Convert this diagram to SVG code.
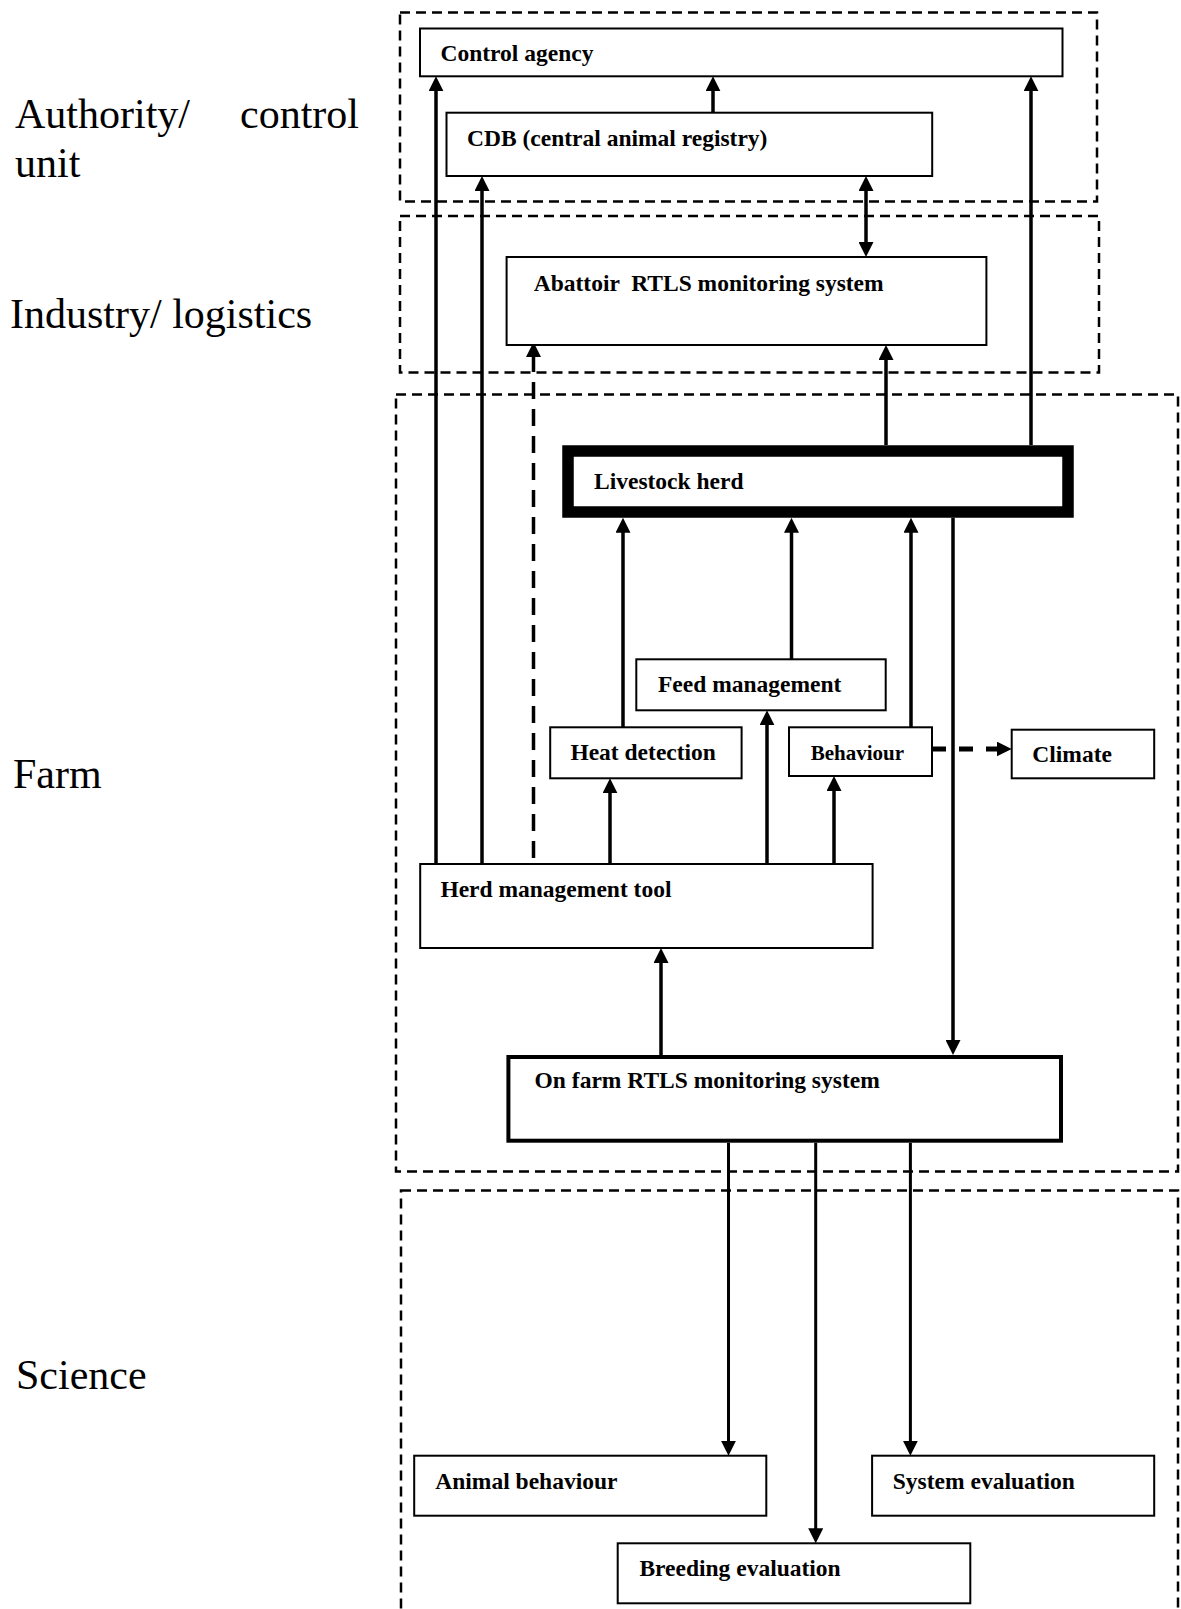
<svg xmlns="http://www.w3.org/2000/svg" width="1181" height="1609" viewBox="0 0 1181 1609">
<style>
.bg{fill:#ffffff}
.zone{fill:none;stroke:#000;stroke-width:2.5;stroke-dasharray:10 6}
.box{fill:#fff;stroke:#000;stroke-width:2}
.lbl{font-family:"Liberation Serif","Times New Roman",serif;font-weight:bold;font-size:23.5px;fill:#000;white-space:pre}
.side{font-family:"Liberation Serif","Times New Roman",serif;font-size:42px;fill:#000}
.arr{fill:none;stroke:#000;stroke-width:3.5;marker-end:url(#ah)}
.dash{stroke-dasharray:17 10}
</style>
<defs>
<marker id="ah" viewBox="0 0 15 15" markerWidth="15" markerHeight="15" refX="11" refY="7.5" orient="auto-start-reverse" markerUnits="userSpaceOnUse">
<path d="M0,0 L15,7.5 L0,15 z" fill="#000"/>
</marker>
</defs>
<rect class="bg" x="0" y="0" width="1181" height="1609"/>

<g id="zones">
<rect class="zone" x="400" y="12.5" width="697" height="189"/>
<rect class="zone" x="400" y="216" width="699" height="156.5"/>
<rect class="zone" x="396" y="394.5" width="782" height="777"/>
<rect class="zone" x="401" y="1190.5" width="777" height="440"/>
</g>

<g id="side-labels">
<text class="side" y="128"><tspan x="15">Authority/</tspan><tspan x="240">control</tspan></text>
<text class="side" x="15" y="177">unit</text>
<text class="side" x="10" y="328">Industry/ logistics</text>
<text class="side" x="13" y="788">Farm</text>
<text class="side" x="16" y="1389">Science</text>
</g>

<g id="connectors">
<path class="arr" d="M436,864 V80.3"/>
<path class="arr" d="M482,864 V180"/>
<path class="arr dash" d="M533.5,858 V346"/>
<path class="arr" d="M610,864 V782.3"/>
<path class="arr" d="M767,864 V714.3"/>
<path class="arr" d="M834,864 V780"/>
<path class="arr" d="M623,727.3 V521.7"/>
<path class="arr" d="M791.5,659.3 V521.7"/>
<path class="arr" d="M911,727.3 V521.7"/>
<path class="arr" d="M886,445 V349"/>
<path class="arr" d="M1031,445 V80.3"/>
<path class="arr" d="M866,180 V253" style="marker-start:url(#ah)"/>
<path class="arr" d="M713,112.7 V80.3"/>
<path class="arr" d="M953,517.7 V1051"/>
<path class="arr" d="M661,1055 V952"/>
<path class="arr" d="M932,749 H1007.7" style="stroke-width:5;stroke-dasharray:14 13"/>
<path class="arr" d="M728.5,1142.7 V1451.7" style="stroke-width:3"/>
<path class="arr" d="M815.7,1142.7 V1539.3" style="stroke-width:3"/>
<path class="arr" d="M910.4,1142.7 V1451.7" style="stroke-width:3"/>
</g>

<g id="control-agency">
<rect class="box" x="420" y="28.5" width="642.5" height="47.8"/>
<text class="lbl" x="440.5" y="61">Control agency</text>
</g>
<g id="cdb">
<rect class="box" x="446.5" y="112.7" width="485.7" height="63.3"/>
<text class="lbl" x="467" y="145.5">CDB (central animal registry)</text>
</g>
<g id="abattoir">
<rect class="box" x="506.6" y="257" width="479.8" height="88"/>
<text class="lbl" x="533.7" y="291">Abattoir  RTLS monitoring system</text>
</g>
<g id="livestock-herd">
<rect class="box" x="568" y="451" width="500" height="61" style="stroke-width:11.5"/>
<text class="lbl" x="594" y="489">Livestock herd</text>
</g>
<g id="feed-management">
<rect class="box" x="636.3" y="659.3" width="249.4" height="51"/>
<text class="lbl" x="658" y="692.3">Feed management</text>
</g>
<g id="heat-detection">
<rect class="box" x="550.2" y="727.3" width="191.4" height="51"/>
<text class="lbl" x="570.4" y="760">Heat detection</text>
</g>
<g id="behaviour">
<rect class="box" x="789" y="727.3" width="143" height="48.7"/>
<text class="lbl" x="810.7" y="760" style="font-size:21px">Behaviour</text>
</g>
<g id="climate">
<rect class="box" x="1011.7" y="729.7" width="142.5" height="48.6"/>
<text class="lbl" x="1032.3" y="762">Climate</text>
</g>
<g id="herd-management-tool">
<rect class="box" x="420.2" y="864" width="452.4" height="84"/>
<text class="lbl" x="440.4" y="897.3">Herd management tool</text>
</g>
<g id="on-farm-rtls">
<rect class="box" x="508.4" y="1057" width="552.6" height="83.7" style="stroke-width:4"/>
<text class="lbl" x="534.6" y="1088.3">On farm RTLS monitoring system</text>
</g>
<g id="animal-behaviour">
<rect class="box" x="414.2" y="1455.7" width="352.1" height="60"/>
<text class="lbl" x="435.3" y="1489.3">Animal behaviour</text>
</g>
<g id="system-evaluation">
<rect class="box" x="872.1" y="1455.7" width="282.1" height="60"/>
<text class="lbl" x="892.8" y="1489.3">System evaluation</text>
</g>
<g id="breeding-evaluation">
<rect class="box" x="617.7" y="1543.3" width="352.6" height="60"/>
<text class="lbl" x="639.4" y="1576">Breeding evaluation</text>
</g>
</svg>
